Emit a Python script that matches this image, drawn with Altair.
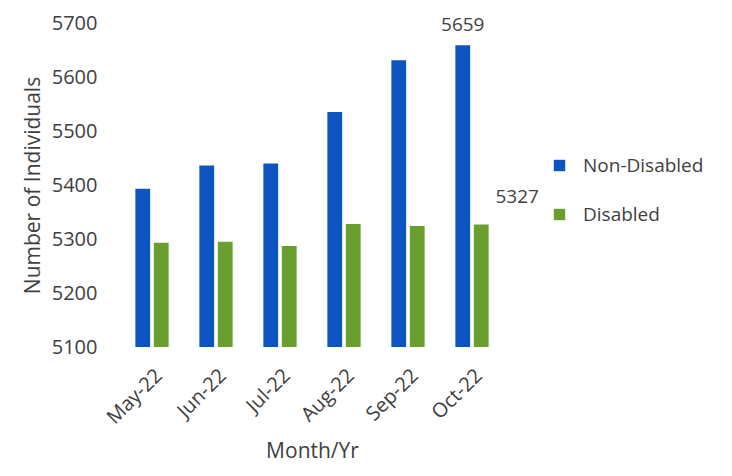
import altair as alt
import pandas as pd

months = ["May-22", "Jun-22", "Jul-22", "Aug-22", "Sep-22", "Oct-22"]
non_disabled = [5393, 5436, 5440, 5535, 5631, 5659]
disabled = [5293, 5295, 5287, 5328, 5324, 5327]
series = ["Non-Disabled", "Disabled"]
colors = ["#0C54C0", "#6A9E2E"]
y_ticks = [5100, 5200, 5300, 5400, 5500, 5600, 5700]

rows = []
for m, a, b in zip(months, non_disabled, disabled):
    rows.append({"Month": m, "Series": series[0], "Value": a})
    rows.append({"Month": m, "Series": series[1], "Value": b})
df = pd.DataFrame(rows)

font = "Open Sans"
tc = "#404040"

x_enc = alt.X("Month:N", sort=months,
              scale=alt.Scale(paddingInner=0.48, paddingOuter=0.24),
              axis=alt.Axis(title="Month/Yr", labelAngle=-45, ticks=False, domain=False,
                            labelFontSize=20, titleFontSize=21, labelColor=tc, titleColor=tc,
                            labelFont=font, titleFont=font, titleFontWeight="normal",
                            labelPadding=18, titlePadding=13))
y_scale = alt.Scale(domain=[5100, 5700], nice=False, zero=False)

bars = alt.Chart(df).mark_bar().encode(
    x=x_enc,
    xOffset=alt.XOffset("Series:N", sort=series, scale=alt.Scale(paddingInner=0.2)),
    y=alt.Y("Value:Q", scale=y_scale,
            axis=alt.Axis(title="Number of Individuals", values=y_ticks, format="d", grid=False,
                          ticks=False, domain=False, labelFontSize=20, titleFontSize=21,
                          labelColor=tc, titleColor=tc, labelFont=font, titleFont=font,
                          titleFontWeight="normal", labelPadding=23, titlePadding=8)),
    y2=alt.datum(5100),
    color=alt.Color("Series:N", sort=series,
                    scale=alt.Scale(domain=series, range=colors),
                    legend=alt.Legend(title=None, orient="none", legendX=430, legendY=133,
                                      symbolType="square", symbolSize=130, labelFontSize=19,
                                      labelFont=font, labelColor=tc, rowPadding=29,
                                      labelOffset=14, symbolStrokeWidth=0)),
)

lab1 = pd.DataFrame({"Month": [months[-1]], "Series": [series[0]], "Value": [non_disabled[-1]],
                     "Label": [str(non_disabled[-1])]})
lab2 = pd.DataFrame({"Month": [months[-1]], "Series": [series[1]], "Value": [disabled[-1]],
                     "Label": [str(disabled[-1])]})

t1 = alt.Chart(lab1).mark_text(dy=-20, fontSize=19, font=font, color=tc).encode(
    x=alt.X("Month:N", sort=months), xOffset=alt.XOffset("Series:N", sort=series),
    y=alt.Y("Value:Q", scale=y_scale), text="Label:N")
t2 = alt.Chart(lab2).mark_text(dx=36, dy=-27, fontSize=19, font=font, color=tc).encode(
    x=alt.X("Month:N", sort=months), xOffset=alt.XOffset("Series:N", sort=series),
    y=alt.Y("Value:Q", scale=y_scale), text="Label:N")

chart = alt.layer(bars, t1, t2).properties(
    width=384, height=324,
    autosize=alt.AutoSizeParams(type="none"),
    padding={"left": 112, "top": 15, "right": 220, "bottom": 121},
).configure(background="white").configure_view(strokeWidth=0, stroke="transparent")

chart.save("out.html", embed_options={"renderer": "svg", "actions": False})
